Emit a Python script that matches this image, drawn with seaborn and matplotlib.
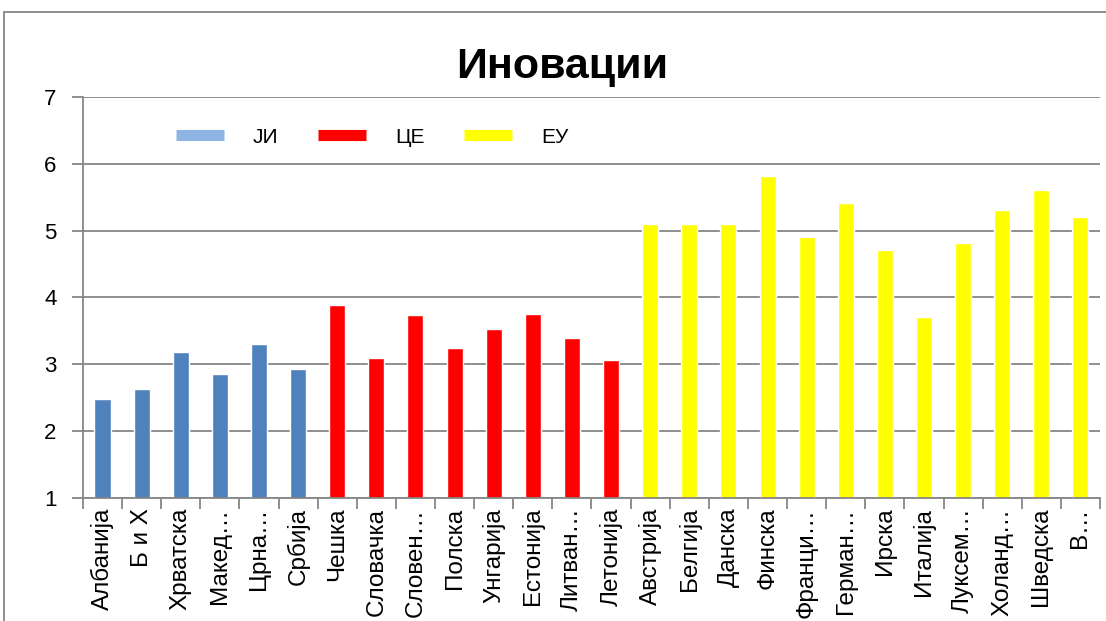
import matplotlib
matplotlib.use("Agg")
import matplotlib.pyplot as plt
import seaborn as sns
import pandas as pd
from matplotlib.lines import Line2D
from matplotlib.patches import Rectangle

# tick labels as shown (truncated ones end with an ellipsis)
countries = ["Албанија", "Б и Х", "Хрватска", "Макед…", "Црна…", "Србија",
             "Чешка", "Словачка", "Словен…", "Полска", "Унгарија", "Естонија",
             "Литван…", "Летонија", "Австрија", "Белгија", "Данска", "Финска",
             "Франци…", "Герман…", "Ирска", "Италија", "Луксем…", "Холанд…",
             "Шведска", "В…"]
scores = [2.48, 2.63, 3.19, 2.86, 3.31, 2.93,
          3.89, 3.10, 3.74, 3.25, 3.53, 3.75, 3.40, 3.07,
          5.10, 5.10, 5.10, 5.82, 4.90, 5.42, 4.71, 3.71, 4.82, 5.31, 5.61, 5.21]
groups = ["ЈИ"] * 6 + ["ЦЕ"] * 8 + ["ЕУ"] * 12
group_names = ["ЈИ", "ЦЕ", "ЕУ"]

bar_colors = {"ЈИ": "#4F81BD", "ЦЕ": "#FF0000", "ЕУ": "#FFFF00"}
legend_colors = {"ЈИ": "#8DB4E2", "ЦЕ": "#FF0000", "ЕУ": "#FFFF00"}

sns.set_theme(style="white")
plt.rcParams['font.family'] = ['Liberation Sans', 'DejaVu Sans']
plt.rcParams['text.color'] = 'black'
plt.rcParams['xtick.color'] = 'black'
plt.rcParams['ytick.color'] = 'black'

df = pd.DataFrame({"country": countries, "score": scores, "group": groups})

fig = plt.figure(figsize=(11.06, 6.21), dpi=100)
ax = fig.add_axes([0.075, 0.198, 0.9196, 0.646])

sns.barplot(data=df, x="country", y="score", hue="group", order=countries,
            palette=bar_colors, dodge=False, width=0.41, saturation=1,
            legend=False, ax=ax)

ax.set_ylim(1, 7)
ax.set_xlim(-0.5, len(countries) - 0.5)
ax.set_yticks(range(1, 8))
ax.set_xlabel("")
ax.set_ylabel("")

# gridlines behind the bars
ax.set_axisbelow(True)
ax.yaxis.grid(True, color="#868686", linewidth=1.3)
ax.xaxis.grid(False)

for s in ["top", "right"]:
    ax.spines[s].set_visible(False)
for s in ["left", "bottom"]:
    ax.spines[s].set_color("#868686")
    ax.spines[s].set_linewidth(1.3)

# category ticks between bars, like Excel
ax.set_xticks(range(len(countries)))
ax.set_xticklabels(countries, rotation=90, fontsize=17.5)
ax.set_xticks([i - 0.5 for i in range(len(countries) + 1)], minor=True)
ax.tick_params(axis="x", which="major", length=0, pad=7)
ax.tick_params(axis="x", which="minor", length=8, width=1.3, color="#868686", bottom=True)
ax.tick_params(axis="y", length=8, width=1.3, color="#868686", labelcolor="black",
               left=True, labelsize=16, pad=11)

fig.suptitle("Иновации", x=0.508, y=0.925, fontsize=31, fontweight="bold", color="black")

handles = [Line2D([0], [0], color=legend_colors[g], linewidth=8, solid_capstyle="butt")
           for g in group_names]
ax.legend(handles, group_names, ncol=3, frameon=False, fontsize=15,
          loc="upper left", bbox_to_anchor=(0.073, 0.97), handlelength=2.3,
          handletextpad=1.4, columnspacing=1.9)

# chart-area border
fig.patches.append(Rectangle((0.0036, -0.1), 1.2, 1.08, transform=fig.transFigure,
                             fill=False, edgecolor="#868686", linewidth=1.3))

fig.savefig("out.png", dpi=100)
plt.close(fig)
